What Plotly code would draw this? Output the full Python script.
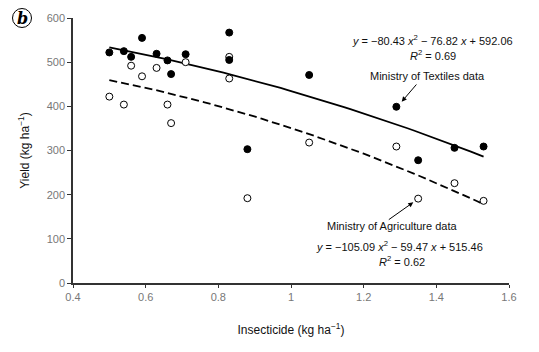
import numpy as np
import plotly.graph_objects as go

# Insecticide (kg/ha) and yield (kg/ha)
tex_x = [0.50, 0.54, 0.56, 0.59, 0.63, 0.66, 0.67, 0.71, 0.83, 0.83, 0.88, 1.05, 1.29, 1.35, 1.45, 1.53]
tex_y = [522, 525, 512, 555, 519, 504, 473, 518, 567, 505, 303, 471, 399, 278, 306, 309]

agr_x = [0.50, 0.54, 0.56, 0.59, 0.63, 0.66, 0.67, 0.71, 0.83, 0.83, 0.88, 1.05, 1.29, 1.35, 1.45, 1.53]
agr_y = [422, 404, 492, 468, 487, 404, 362, 500, 512, 463, 192, 318, 309, 191, 226, 186]

# Fitted quadratic trend coefficients (a x^2 + b x + c)
tex_coef = [-80.43, -76.82, 592.06]
agr_coef = [-105.09, -59.47, 515.46]

fit_x = np.linspace(min(tex_x), max(tex_x), 60)

L, R, T, B = 73, 30, 18, 69
W, H = 539, 352
pw, ph = W - L - R, H - T - B


def px2x(px):
    return 0.4 + (px - L) / pw * 1.2


def py2y(py):
    return (T + ph - py) / ph * 600


fig = go.Figure()
fig.add_trace(go.Scatter(x=fit_x, y=np.polyval(tex_coef, fit_x), mode="lines",
                         line=dict(color="black", width=1.8), hoverinfo="skip"))
fig.add_trace(go.Scatter(x=fit_x, y=np.polyval(agr_coef, fit_x), mode="lines",
                         line=dict(color="black", width=1.8, dash="8px,4px"), hoverinfo="skip"))
fig.add_trace(go.Scatter(x=agr_x, y=agr_y, mode="markers",
                         marker=dict(symbol="circle", size=7, color="white",
                                     line=dict(color="black", width=1))))
fig.add_trace(go.Scatter(x=tex_x, y=tex_y, mode="markers",
                         marker=dict(symbol="circle", size=7, color="black",
                                     line=dict(color="black", width=1))))

tfont = dict(family="Liberation Sans, Arial, sans-serif", size=11, color="#111")
ann = [
    (432.7, 40, "<i>y</i> = −80.43 <i>x</i><sup>2</sup> − 76.82 <i>x</i> + 592.06"),
    (432.7, 55, "<i>R</i><sup>2</sup> = 0.69"),
    (427, 76, "Ministry of Textiles data"),
    (391.7, 226, "Ministry of Agriculture data"),
    (399.3, 245.5, "<i>y</i> = −105.09 <i>x</i><sup>2</sup> − 59.47 <i>x</i> + 515.46"),
    (402, 260.5, "<i>R</i><sup>2</sup> = 0.62"),
]
annotations = []
for px, py, txt in ann:
    annotations.append(dict(x=px2x(px), y=py2y(py), xref="x", yref="y", text=txt,
                            showarrow=False, font=tfont, xanchor="center", yanchor="middle"))
# arrows
annotations.append(dict(x=px2x(401.7), y=py2y(101.7), ax=px2x(417.7), ay=py2y(83),
                        xref="x", yref="y", axref="x", ayref="y",
                        text="", showarrow=True, arrowhead=2, arrowsize=1, arrowwidth=1, arrowcolor="black"))
annotations.append(dict(x=px2x(413.3), y=py2y(202.3), ax=px2x(387.3), ay=py2y(220.7),
                        xref="x", yref="y", axref="x", ayref="y",
                        text="", showarrow=True, arrowhead=2, arrowsize=1, arrowwidth=1, arrowcolor="black"))
# panel label (circled b)
annotations.append(dict(x=(22 - L) / pw, y=(T + ph - 18) / ph, xref="paper", yref="paper",
                        text="<b><i>b</i></b>", showarrow=False, xanchor="center", yanchor="middle",
                        font=dict(family="DejaVu Serif, serif", size=16, color="black")))

fig.update_layout(
    width=W, height=H,
    margin=dict(l=L, r=R, t=T, b=B),
    paper_bgcolor="white", plot_bgcolor="white",
    showlegend=False,
    font=dict(family="Liberation Sans, Arial, sans-serif"),
    annotations=annotations,
    xaxis=dict(range=[0.4, 1.6], dtick=0.2, tick0=0.4, showgrid=False, zeroline=False,
               showline=True, linecolor="#333", linewidth=1.5, ticks="outside", ticklen=3,
               tickcolor="#333", tickfont=dict(size=11, color="#777"),
               title=dict(text="Insecticide (kg ha<sup>−1</sup>)", font=dict(size=12, color="#111"), standoff=24)),
    yaxis=dict(range=[0, 600], dtick=100, showgrid=False, zeroline=False,
               showline=True, linecolor="#333", linewidth=1.5, ticks="outside", ticklen=4,
               tickcolor="#333", tickfont=dict(size=11, color="#777"),
               title=dict(text="Yield (kg ha<sup>−1</sup>)", font=dict(size=12, color="#111"), standoff=14)),
)
fig.add_shape(type="circle", xref="paper", yref="paper",
              x0=(12.5 - L) / pw, x1=(31.5 - L) / pw,
              y0=(T + ph - 27.5) / ph, y1=(T + ph - 8.5) / ph,
              line=dict(color="black", width=1))

fig.write_html("out.html")
